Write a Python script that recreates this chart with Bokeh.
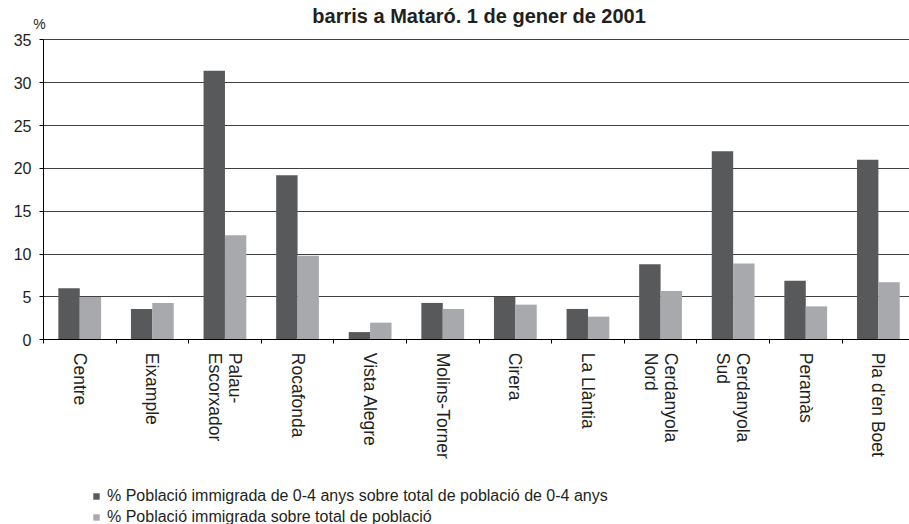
import math
from bokeh.plotting import figure
from bokeh.models import FixedTicker, Range1d, Label, Legend, LegendItem, ColumnDataSource
from bokeh.embed import file_html
from bokeh.resources import INLINE

# ---- data ----
barris = ["Centre", "Eixample", "Palau-\nEscorxador", "Rocafonda", "Vista Alegre",
          "Molins-Torner", "Cirera", "La Llàntia", "Cerdanyola\nNord", "Cerdanyola\nSud",
          "Peramàs", "Pla d’en Boet"]
immigrada_0_4 = [6.0, 3.6, 31.4, 19.2, 0.9, 4.3, 5.0, 3.6, 8.8, 22.0, 6.9, 21.0]
immigrada_total = [5.0, 4.3, 12.2, 9.8, 2.0, 3.6, 4.1, 2.7, 5.7, 8.9, 3.9, 6.7]
y_ticks = [0, 5, 10, 15, 20, 25, 30, 35]
serie_labels = ["% Població immigrada de 0-4 anys sobre total de població de 0-4 anys",
                "% Població immigrada sobre total de població"]
titol = "barris a Mataró. 1 de gener de 2001"

FONT = "Liberation Sans"
DARK = "#58595b"
LIGHT = "#a7a9ac"
TXT = "#231f20"

n = len(barris)
centers = [i + 0.5 for i in range(n)]
src = ColumnDataSource(dict(
    x_dark=[c - 0.148 for c in centers],
    x_light=[c + 0.146 for c in centers],
    dark=immigrada_0_4,
    light=immigrada_total,
))

# frame covers the whole canvas; axes are pinned at x=0 / y=0
p = figure(width=909, height=524, x_range=Range1d(-0.5923, 11.928), y_range=Range1d(-21.55, 39.585),
           output_backend="svg", toolbar_location=None,
           min_border_left=0, min_border_right=0, min_border_top=0, min_border_bottom=0)
p.outline_line_color = None
p.background_fill_color = "white"

p.xgrid.visible = False
p.ygrid.ticker = FixedTicker(ticks=y_ticks)
p.ygrid.grid_line_color = "#404040"
p.ygrid.grid_line_width = 1
p.ygrid.cross_bounds = (0, 11.928)

r1 = p.vbar(x="x_dark", top="dark", width=0.295, source=src, fill_color=DARK, line_color=None)
r2 = p.vbar(x="x_light", top="light", width=0.295, source=src, fill_color=LIGHT, line_color=None)

# x axis
xa = p.xaxis[0]
xa.fixed_location = 0
xa.bounds = (0, 11.928)
xa.ticker = FixedTicker(ticks=centers, minor_ticks=list(range(n + 1)))
xa.major_label_overrides = {c: name for c, name in zip(centers, barris)}
xa.major_tick_line_color = None
xa.major_tick_out = 0
xa.major_tick_in = 0
xa.minor_tick_out = 4
xa.minor_tick_in = 0
xa.minor_tick_line_color = "black"
xa.axis_line_color = "black"
xa.major_label_orientation = -math.pi / 2
xa.major_label_standoff = 9
xa.major_label_text_font = FONT
xa.major_label_text_font_size = "17.5px"
xa.major_label_text_line_height = 1.0
xa.major_label_text_color = TXT

# y axis
ya = p.yaxis[0]
ya.fixed_location = 0
ya.bounds = (0, 35)
ya.ticker = FixedTicker(ticks=y_ticks, minor_ticks=[])
ya.major_tick_out = 4
ya.major_tick_in = 0
ya.major_tick_line_color = "black"
ya.axis_line_color = "black"
ya.major_label_standoff = 8
ya.major_label_text_font = FONT
ya.major_label_text_font_size = "16px"
ya.major_label_text_color = TXT

# title and unit
p.add_layout(Label(x=6.0, y=37.72, text=titol, text_align="center", text_baseline="alphabetic",
                   text_font=FONT, text_font_size="20px", text_font_style="bold",
                   text_color=TXT))
p.add_layout(Label(x=-0.055, y=36.785, text="%", text_align="center", text_baseline="alphabetic",
                   text_font=FONT, text_font_size="14px", text_color=TXT))

legend = Legend(items=[LegendItem(label=serie_labels[0], renderers=[r1]),
                       LegendItem(label=serie_labels[1], renderers=[r2])],
                location=(92, -2), orientation="vertical",
                glyph_width=8, glyph_height=8, label_height=16, label_standoff=7,
                spacing=3, padding=0, margin=0,
                label_text_font=FONT, label_text_font_size="16px", label_text_color=TXT,
                border_line_alpha=0, background_fill_alpha=0)
p.add_layout(legend, "center")

open("out.html", "w").write(file_html(p, INLINE))
